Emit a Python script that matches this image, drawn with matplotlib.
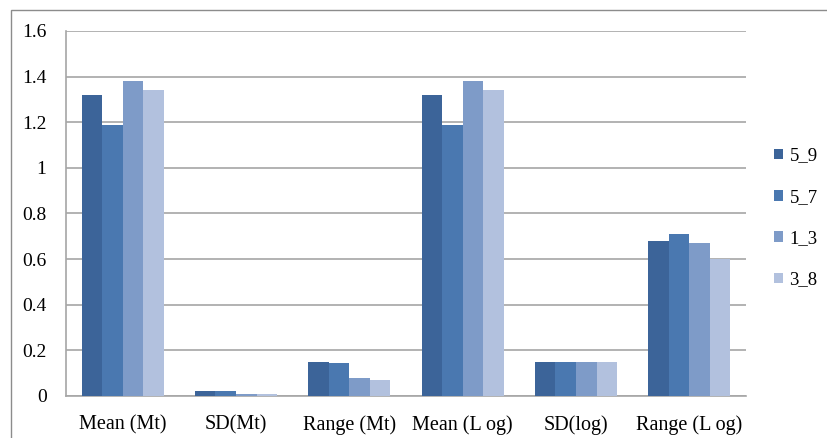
import numpy as np
import matplotlib.pyplot as plt
from matplotlib.patches import Rectangle

categories = ["Mean (Mt)", "SD(Mt)", "Range (Mt)", "Mean (L og)", "SD(log)", "Range (L og)"]
series_names = ["5_9", "5_7", "1_3", "3_8"]
s_5_9 = [1.32, 0.02, 0.15, 1.32, 0.15, 0.68]
s_5_7 = [1.19, 0.02, 0.145, 1.19, 0.15, 0.71]
s_1_3 = [1.38, 0.01, 0.08, 1.38, 0.15, 0.67]
s_3_8 = [1.34, 0.01, 0.07, 1.34, 0.15, 0.60]
y_ticks = [0, 0.2, 0.4, 0.6, 0.8, 1, 1.2, 1.4, 1.6]
y_tick_labels = ["0", "0.2", "0.4", "0.6", "0.8", "1", "1.2", "1.4", "1.6"]

colors = ["#3c6499", "#4a78b0", "#7e9bc8", "#b2c1de"]
grid_color = "#a6a6a6"

plt.rcParams['font.family'] = ['Liberation Serif', 'DejaVu Serif']

fig = plt.figure(figsize=(8.27, 4.38), dpi=100)
ax = fig.add_axes([66 / 827, 1 - 396 / 438, (746 - 66) / 827, (396 - 31) / 438])

# outer frame, runs off the right and bottom edges
fig.patches.append(Rectangle((11 / 827, -0.05), 1.2, 1 - 9.5 / 438 + 0.05,
                             transform=fig.transFigure, fill=False,
                             edgecolor="#8c8c8c", linewidth=1.0))

x = np.arange(len(categories))
bar_w = 0.181
all_series = [s_5_9, s_5_7, s_1_3, s_3_8]
for k, (vals, name) in enumerate(zip(all_series, series_names)):
    offs = (k - 1.5) * bar_w
    ax.bar(x + offs, vals, width=bar_w, color=colors[k], label=name,
           edgecolor="none", zorder=3)

ax.set_xlim(-0.5, len(categories) - 0.5)
ax.set_ylim(0, 1.6)
ax.set_yticks(y_ticks)
ax.set_yticklabels(y_tick_labels, fontsize=14)
ax.set_xticks(x)
ax.set_xticklabels(categories, fontsize=14.5)
ax.tick_params(axis='y', length=0, pad=14)
ax.tick_params(axis='x', length=0, pad=14)

ax.yaxis.grid(True, color=grid_color, linewidth=1.2, zorder=0)
for side in ["top", "right"]:
    ax.spines[side].set_visible(False)
ax.spines["left"].set_color(grid_color)
ax.spines["bottom"].set_color(grid_color)
ax.spines["left"].set_linewidth(1.2)
ax.spines["bottom"].set_linewidth(1.2)

leg = fig.legend(loc="upper left", bbox_to_anchor=(766 / 827, 1 - 140 / 438),
                 frameon=False, fontsize=13.5, handlelength=0.5, handleheight=0.5,
                 handletextpad=0.35, labelspacing=1.3, borderaxespad=0)

fig.savefig("out.png", dpi=100)
